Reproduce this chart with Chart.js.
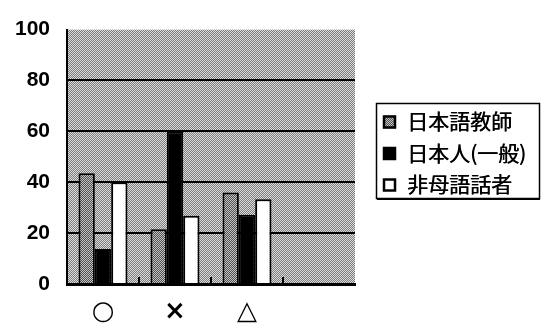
<!DOCTYPE html>
<html>
<head>
<meta charset="utf-8">
<script src="https://cdn.jsdelivr.net/npm/chart.js@4/dist/chart.umd.min.js"></script>
<style>
  html, body { margin: 0; padding: 0; background: #fff; }
  #wrap { width: 541px; height: 331px; }
</style>
</head>
<body>
<div id="wrap"><canvas id="c" width="541" height="331"></canvas></div>
<script>
// Answer categories and the share (%) choosing each, per respondent group
const categories = ['○', '×', '△', ''];
const seriesNames = ['日本語教師', '日本人(一般)', '非母語話者'];
const teachers  = [43.5, 21.5, 36.0, null];
const general   = [13.8, 60.0, 27.2, null];
const nonNative = [40.0, 26.8, 33.3, null];
const yTicks = [0, 20, 40, 60, 80, 100];

// Halftone-style fills
function makePattern(light, dark) {
  const p = document.createElement('canvas');
  p.width = 4; p.height = 4;
  const g = p.getContext('2d');
  for (let y = 0; y < 4; y++) {
    for (let x = 0; x < 4; x++) {
      g.fillStyle = ((x + y) % 2 === 0) ? light : dark;
      g.fillRect(x, y, 1, 1);
    }
  }
  return g.createPattern(p, 'repeat');
}
const plotFill = makePattern('#dcdcdc', '#7c7c7c');
const barFill  = makePattern('#c4c4c4', '#505050');

const seriesFills = [barFill, '#000000', '#ffffff'];

// Plot-area background
const plotBackground = {
  id: 'plotBackground',
  beforeDraw(chart) {
    const { ctx, chartArea: a } = chart;
    ctx.save();
    ctx.fillStyle = plotFill;
    ctx.fillRect(a.left, a.top, a.right - a.left, a.bottom - a.top);
    ctx.restore();
  }
};

// Short inward tick marks between categories
const innerTicks = {
  id: 'innerTicks',
  afterDatasetsDraw(chart) {
    const { ctx, chartArea: a } = chart;
    const xs = chart.scales.x;
    ctx.save();
    ctx.strokeStyle = '#000';
    ctx.lineWidth = 2;
    for (let i = 1; i < categories.length; i++) {
      const x = Math.round((xs.getPixelForValue(i - 1) + xs.getPixelForValue(i)) / 2);
      ctx.beginPath();
      ctx.moveTo(x, a.bottom);
      ctx.lineTo(x, a.bottom - 7);
      ctx.stroke();
    }
    ctx.restore();
  }
};

// Boxed legend to the right of the plot
const boxedLegend = {
  id: 'boxedLegend',
  afterDraw(chart) {
    const { ctx, chartArea: a } = chart;
    const left = a.right + 21, top = 103, right = 540, bottom = 199;
    ctx.save();
    ctx.fillStyle = '#fff';
    ctx.fillRect(left, top, right - left, bottom - top);
    ctx.strokeStyle = '#000';
    ctx.lineWidth = 1.5;
    ctx.strokeRect(left + 0.5, top + 0.5, right - left - 1, bottom - top - 1);
    ctx.fillStyle = '#000';
    ctx.fillRect(left + 1, bottom - 1, right - left - 1, 2);
    ctx.font = '21px "Noto Sans CJK JP"';
    ctx.textBaseline = 'middle';
    ctx.textAlign = 'left';
    chart.data.datasets.forEach((ds, i) => {
      const cy = 121.5 + i * 31.5;
      ctx.fillStyle = ds.backgroundColor;
      ctx.fillRect(left + 7, cy - 6, 13, 13);
      ctx.strokeStyle = '#000';
      ctx.lineWidth = 2.5;
      ctx.strokeRect(left + 8, cy - 5, 11, 11);
      ctx.fillStyle = '#000';
      // slight double strike for a heavier face
      ctx.fillText(ds.label, left + 31, cy);
      ctx.fillText(ds.label, left + 31.4, cy);
    });
    ctx.restore();
  }
};

const seriesValues = [teachers, general, nonNative];

new Chart(document.getElementById('c'), {
  type: 'bar',
  data: {
    labels: categories,
    datasets: seriesValues.map((vals, i) => ({
      label: seriesNames[i],
      data: vals,
      backgroundColor: seriesFills[i],
      borderColor: '#000',
      borderWidth: 2,
      barPercentage: 1.0,
      categoryPercentage: 0.68
    }))
  },
  options: {
    responsive: false,
    animation: false,
    layout: { padding: { top: 20, right: 186, bottom: 0, left: 0 } },
    plugins: {
      legend: { display: false },
      tooltip: { enabled: false }
    },
    scales: {
      x: {
        grid: { display: false },
        border: { display: true, color: '#000', width: 3 },
        ticks: {
          color: '#000',
          padding: 5,
          font: { family: '"DejaVu Sans"', size: 26, weight: 'bold' }
        },
        afterFit(s) { s.height = 47; }
      },
      y: {
        min: 0,
        max: 100,
        afterBuildTicks(s) { s.ticks = yTicks.map(v => ({ value: v })); },
        grid: {
          drawTicks: false,
          lineWidth: 2,
          color: c => (c.tick && c.tick.value === 100) ? 'rgba(0,0,0,0)' : '#000'
        },
        border: { display: true, color: '#000', width: 2 },
        ticks: {
          color: '#000',
          padding: 17,
          font: { family: '"Liberation Sans"', size: 21, weight: 'bold' }
        },
        afterFit(s) { s.width = 67; }
      }
    }
  },
  plugins: [plotBackground, innerTicks, boxedLegend]
});
</script>
</body>
</html>
